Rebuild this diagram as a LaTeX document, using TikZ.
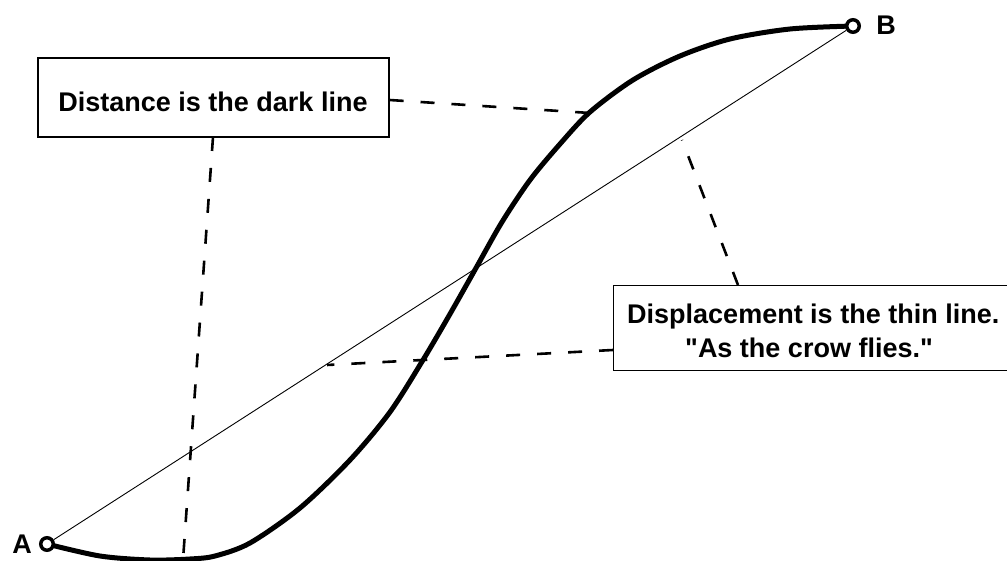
\documentclass[tikz,border=0pt]{standalone}
\usepackage{fontspec}
\setmainfont{Liberation Sans}[Ligatures=TeXOff]
\begin{document}
\begin{tikzpicture}[x=1pt,y=-1pt,
  lbl/.style={font=\bfseries\fontsize{27}{31}\selectfont, inner sep=0pt},
  box/.style={draw, line width=1.2pt, fill=white, inner sep=0pt},
  endpt/.style={circle, draw, line width=3.5pt, fill=white, minimum size=12.5pt, inner sep=0pt},
  thinline/.style={line width=0.9pt},
  thickline/.style={line width=5pt, line cap=round, line join=round},
  leader/.style={line width=2.6pt, dash pattern=on 14pt off 17pt}]
\useasboundingbox (0,0) rectangle (1007,561);
\fill[white] (0,0) rectangle (1007,561);
% endpoints (coordinates first)
\coordinate (Ac) at (47,544);
\coordinate (Bc) at (853,26);
% thick path (distance)
\draw[thickline] plot[smooth, tension=0.5] coordinates {
  (47,544) (100,556) (150,560) (190,559) (215,556) (250,543) (300,508)
  (350,460) (390,412) (423,360) (450,314) (476,268) (502,222) (530,180)
  (560,144) (590,112) (633,80) (680,56) (730,39) (790,29) (853,26)};
% anchor points of the leaders
\coordinate (onCurveTop) at (590,113);
\coordinate (onCurveBot) at (183,560);
\coordinate (onThinTop) at (682,140);
\coordinate (onThinMid) at (327,365);
% boxes
\node[box, minimum width=351pt, minimum height=79pt] (dist) at (213.5,97.5) {};
\node[lbl] (distT) at (213,102) {Distance is the dark line};
\node[box, anchor=north west, minimum width=420pt, minimum height=85pt] (disp) at (613,285) {};
\node[lbl, anchor=base west] (dispT1) at (627,324) {Displacement is the thin line.};
\node[lbl, anchor=base west] (dispT2) at (685,358) {"As the crow flies."};
% leaders
\draw[leader] (dist.east |- 0,100) -- (onCurveTop);
\draw[leader] (213,137) -- (onCurveBot);
\draw[leader] (738,285) -- (onThinTop);
\draw[leader] (613,350) -- (onThinMid);
% thin straight line (displacement)
\node[endpt] (A) at (Ac) {};
\node[endpt] (B) at (Bc) {};
\draw[thinline] (A) -- (B);
\node[lbl] (Alab) at (22,544) {A};
\node[lbl] (Blab) at (886,25) {B};
\end{tikzpicture}
\end{document}
